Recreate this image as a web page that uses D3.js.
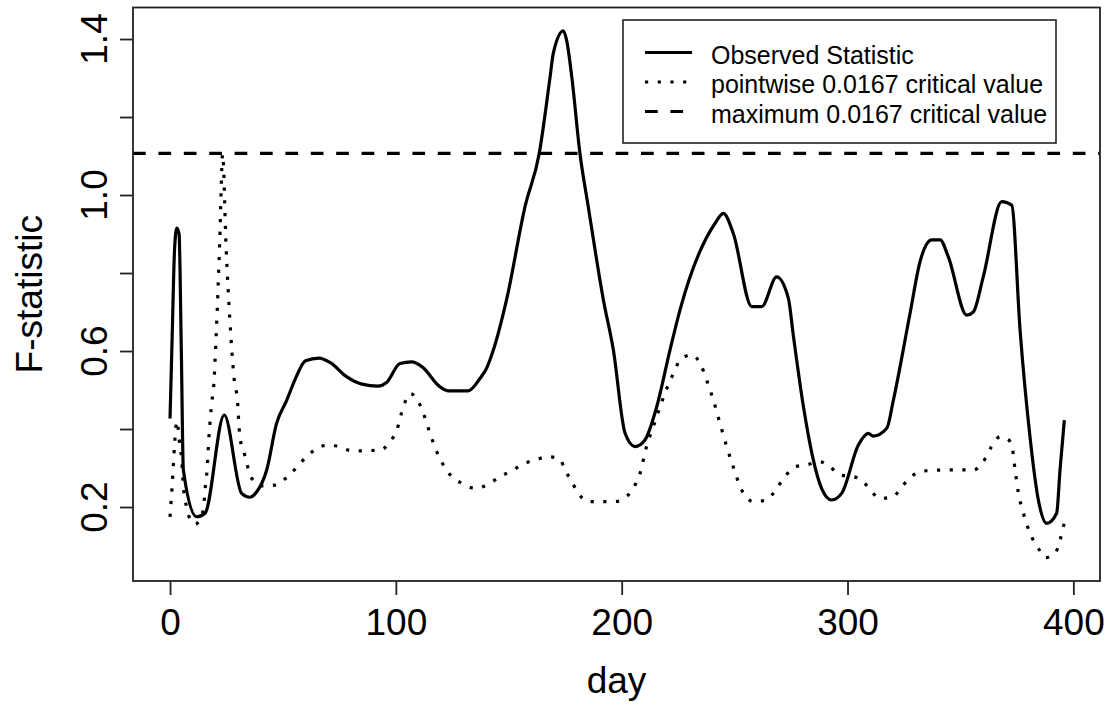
<!DOCTYPE html>
<html>
<head>
<meta charset="utf-8">
<script src="https://cdn.jsdelivr.net/npm/d3@7"></script>
<style>
  html, body { margin: 0; padding: 0; background: #fff; }
  svg { display: block; font-family: "Liberation Sans", Arial, sans-serif; }
</style>
</head>
<body>
<svg id="chart" width="1107" height="709"></svg>
<script>
// ---- data ----
const obsDay = [0, 1, 2, 3, 4, 5, 5.9, 11.8, 15.5, 24, 31.7, 35.4, 38.4, 42.8, 47.2, 51.7, 55.3, 60, 66, 71, 78, 85, 92, 96,
  101.8, 107, 111.5, 119.6, 123.3, 132, 137.3, 140.2, 143.2, 149, 157.2, 163.5, 168.3, 169.7, 174.2, 175.6, 177.9, 181.5,
  185.2, 191.9, 196.3, 201.5, 205.9, 210.3, 215.5, 221.4, 225.8, 241.3, 245, 249.4, 257.6, 262, 268.6, 273.8, 276, 280.4,
  284.5, 288.5, 293, 297.4, 304.8, 309.2, 311.4, 317.4, 320.3, 327.7, 332.1, 337.3, 341, 344.6, 352.8, 355.7, 360.1, 368.3,
  372.7, 376.4, 380.8, 384.5, 388.2, 392.6, 394.1, 396];
const obsVal = [0.427, 0.65, 0.86, 0.915, 0.9, 0.6, 0.295, 0.175, 0.184, 0.436, 0.235, 0.225, 0.239, 0.295, 0.415, 0.474, 0.526, 0.575, 0.582, 0.57, 0.535, 0.515, 0.51, 0.52,
  0.568, 0.572, 0.56, 0.508, 0.498, 0.498, 0.53, 0.556, 0.603, 0.731, 0.97, 1.107, 1.303, 1.363, 1.421, 1.397, 1.303, 1.107,
  0.97, 0.731, 0.603, 0.389, 0.355, 0.372, 0.457, 0.603, 0.705, 0.927, 0.953, 0.902, 0.714, 0.714, 0.79, 0.735, 0.64, 0.46,
  0.33, 0.248, 0.218, 0.235, 0.359, 0.389, 0.382, 0.402, 0.474, 0.697, 0.829, 0.885, 0.885, 0.842, 0.692, 0.70, 0.79, 0.983,
  0.974, 0.654, 0.38, 0.218, 0.158, 0.184, 0.295, 0.423];

const ptDay = [0, 1, 2, 3, 4.4, 5.2, 5.9, 6.6, 7.6, 10.3, 11, 13, 14.8, 15.5, 16.5, 17.1, 17.9, 18.5, 19.2, 20.5, 22, 23.3,
  24.8, 26.5, 28.7, 29.8, 30.2, 31, 32.5, 34, 35.7, 40.6, 46.5, 51.7, 60.5, 66.4, 70.9, 81.2, 93, 97.4, 100.4, 103.3, 106.3,
  110, 112.2, 115.1, 118.1, 121, 124.7, 129.2, 135, 140.2, 146.1, 151.3, 156.4, 162.4, 167.5, 172.7, 174.9, 177.9, 180.8,
  185.2, 191.2, 197, 202.2, 205.9, 208.1, 211, 214, 217, 220.6, 223.6, 225.8, 231, 235.4, 237.6, 240.6, 243.5, 246.5, 249.4,
  253.1, 258.3, 264.2, 268.6, 272.3, 276.8, 281.9, 287.8, 292.3, 296.7, 302.6, 307, 310.7, 314.4, 320.3, 324, 329.1, 335,
  343.9, 355.7, 360.1, 363.8, 367.5, 370.5, 372.7, 374.2, 375.7, 377.9, 380.8, 384.5, 387.5, 391.9, 394.1, 396];
const ptVal = [0.175, 0.26, 0.36, 0.42, 0.355, 0.32, 0.252, 0.222, 0.192, 0.158, 0.156, 0.165, 0.197, 0.244, 0.303, 0.367, 0.431, 0.47, 0.5, 0.65, 0.88, 1.105,
  0.87, 0.68, 0.513, 0.479, 0.44, 0.376, 0.346, 0.312, 0.278, 0.254, 0.256, 0.276, 0.329, 0.355, 0.359, 0.344, 0.346, 0.367, 0.397, 0.457, 0.491,
  0.47, 0.44, 0.389, 0.342, 0.308, 0.278, 0.261, 0.248, 0.256, 0.278, 0.293, 0.31, 0.322, 0.329, 0.322, 0.295, 0.265, 0.235,
  0.214, 0.214, 0.214, 0.227, 0.256, 0.286, 0.355, 0.406, 0.457, 0.513, 0.551, 0.577, 0.59, 0.56, 0.526, 0.474, 0.415, 0.355, 0.303,
  0.244, 0.214, 0.218, 0.248, 0.278, 0.303, 0.308, 0.316, 0.303, 0.282, 0.278, 0.265, 0.239, 0.222, 0.227, 0.252, 0.282, 0.293,
  0.295, 0.295, 0.316, 0.355, 0.38, 0.376, 0.359, 0.295, 0.235, 0.184, 0.133, 0.094, 0.07, 0.081, 0.115, 0.16];

const maxCrit = 1.107;

const xTicks = [0, 100, 200, 300, 400];
const yTicks = [0.2, 0.4, 0.6, 0.8, 1.0, 1.2, 1.4];
const yLabels = [0.2, 0.6, 1.0, 1.4];

const legendLabels = ["Observed Statistic", "pointwise 0.0167 critical value", "maximum 0.0167 critical value"];
const legendDash = [null, "3.2,9.5", "12.7,12.7"];

// ---- layout ----
const box = { left: 133, right: 1100, top: 7.5, bottom: 581 };
const svg = d3.select("#chart");

const x = d3.scaleLinear().domain([-16.4, 411.8]).range([box.left, box.right]);
const y = d3.scaleLinear().domain([0.0103, 1.4808]).range([box.bottom, box.top]);

const ink = "#000";
const axisInk = "#222";
const axisFont = 37;

// clip for data lines
svg.append("clipPath").attr("id", "plotclip")
  .append("rect")
  .attr("x", box.left).attr("y", box.top)
  .attr("width", box.right - box.left).attr("height", box.bottom - box.top);

const plot = svg.append("g").attr("clip-path", "url(#plotclip)");

// max critical value (abline)
plot.append("line")
  .attr("x1", box.left).attr("x2", box.right)
  .attr("y1", y(maxCrit)).attr("y2", y(maxCrit))
  .attr("stroke", ink)
  .attr("stroke-width", 3.2)
  .attr("stroke-dasharray", legendDash[2]);

const line = d3.line()
  .x((d) => x(d[0]))
  .y((d) => y(d[1]))
  .curve(d3.curveMonotoneX);

// pointwise critical value (dotted)
plot.append("path")
  .datum(ptDay.map((d, i) => [d, ptVal[i]]))
  .attr("d", line)
  .attr("fill", "none")
  .attr("stroke", ink)
  .attr("stroke-width", 3.2)
  .attr("stroke-dasharray", legendDash[1]);

// observed statistic (solid)
plot.append("path")
  .datum(obsDay.map((d, i) => [d, obsVal[i]]))
  .attr("d", line)
  .attr("fill", "none")
  .attr("stroke", ink)
  .attr("stroke-width", 3.2)
  .attr("stroke-linejoin", "round");

// plot frame
svg.append("rect")
  .attr("x", box.left).attr("y", box.top)
  .attr("width", box.right - box.left).attr("height", box.bottom - box.top)
  .attr("fill", "none")
  .attr("stroke", axisInk)
  .attr("stroke-width", 1.8);

// x axis
const xAxis = svg.append("g")
  .attr("transform", `translate(0,${box.bottom})`)
  .call(d3.axisBottom(x).tickValues(xTicks).tickSize(14).tickPadding(14).tickFormat(d3.format("d")));
xAxis.select(".domain").remove();
xAxis.selectAll("line").attr("stroke", axisInk).attr("stroke-width", 1.8);
xAxis.selectAll("text")
  .attr("font-size", axisFont)
  .attr("font-family", "Liberation Sans, Arial, sans-serif")
  .attr("fill", ink);

// y axis ticks
const yAxis = svg.append("g")
  .attr("transform", `translate(${box.left},0)`)
  .call(d3.axisLeft(y).tickValues(yTicks).tickSize(13).tickFormat(""));
yAxis.select(".domain").remove();
yAxis.selectAll("line").attr("stroke", axisInk).attr("stroke-width", 1.8);

// y tick labels (rotated, as in R)
svg.append("g")
  .selectAll("text")
  .data(yLabels)
  .join("text")
  .attr("transform", (d) => `translate(107,${y(d)}) rotate(-90)`)
  .attr("text-anchor", "middle")
  .attr("font-size", axisFont)
  .attr("fill", ink)
  .text((d) => d3.format(".1f")(d));

// axis titles
svg.append("text")
  .attr("x", (box.left + box.right) / 2)
  .attr("y", 693)
  .attr("text-anchor", "middle")
  .attr("font-size", axisFont)
  .attr("fill", ink)
  .text("day");

svg.append("text")
  .attr("transform", `translate(42,${(box.top + box.bottom) / 2}) rotate(-90)`)
  .attr("text-anchor", "middle")
  .attr("font-size", axisFont)
  .attr("fill", ink)
  .text("F-statistic");

// legend
const legend = svg.append("g").attr("transform", "translate(623,20)");
legend.append("rect")
  .attr("width", 433)
  .attr("height", 123)
  .attr("fill", "#fff")
  .attr("stroke", axisInk)
  .attr("stroke-width", 1.6);

legendLabels.forEach((label, i) => {
  const base = 43.5 + i * 29.5;
  legend.append("line")
    .attr("x1", 22).attr("x2", 69)
    .attr("y1", base - 11).attr("y2", base - 11)
    .attr("stroke", ink)
    .attr("stroke-width", 3.2)
    .attr("stroke-dasharray", legendDash[i]);
  legend.append("text")
    .attr("x", 88)
    .attr("y", base)
    .attr("font-size", 25)
    .attr("fill", ink)
    .text(label);
});
</script>
</body>
</html>
